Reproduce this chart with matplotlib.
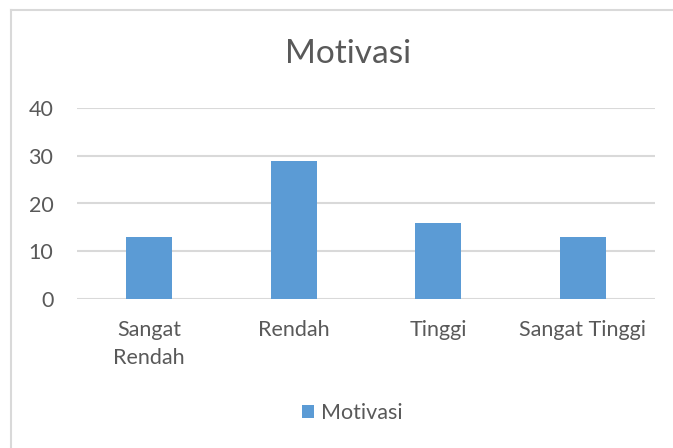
import matplotlib
matplotlib.use("Agg")
import matplotlib.pyplot as plt
from matplotlib.lines import Line2D
from matplotlib.patches import Patch

# data
categories = ["Sangat\nRendah", "Rendah", "Tinggi", "Sangat Tinggi"]
values = [13, 29, 16, 13]
series_name = "Motivasi"
yticks = [0, 10, 20, 30, 40]

bar_color = "#5B9BD5"
text_color = "#595959"
grid_color = "#D9D9D9"

plt.rcParams["font.family"] = ["Lato", "DejaVu Sans"]

W, H = 673, 448
fig = plt.figure(figsize=(W / 100, H / 100), dpi=100)

# outer chart border (only top and left edges are visible in the crop)
top = 1 - 10 / H
left = 11.5 / W
fig.lines.append(Line2D([left, 1], [top, top], transform=fig.transFigure,
                        color="#D9D9D9", linewidth=1.5))
fig.lines.append(Line2D([left, left], [0, top], transform=fig.transFigure,
                        color="#D9D9D9", linewidth=1.5))

ax = fig.add_axes([77 / W, 1 - 299 / H, 578 / W, 191 / H])
x = range(len(categories))
ax.bar(x, values, width=0.32, color=bar_color, zorder=3)

ax.set_xlim(-0.5, len(categories) - 0.5)
ax.set_ylim(0, 40)
ax.set_yticks(yticks)
ax.set_xticks(list(x))
ax.set_xticklabels(categories, fontsize=15.5, color=text_color, va="top", linespacing=1.5)
ax.tick_params(axis="y", labelsize=15.5, labelcolor=text_color, length=0, pad=17)
ax.tick_params(axis="x", length=0, pad=15)

ax.grid(axis="y", color=grid_color, linewidth=1.5, zorder=0)
for s in ax.spines.values():
    s.set_visible(False)

fig.text(348 / W, 1 - 54 / H, "Motivasi", ha="center", va="center", fontsize=24, color=text_color)

handle = Patch(facecolor=bar_color, edgecolor="none")
fig.legend([handle], [series_name], loc="center", bbox_to_anchor=(352 / W, 1 - 413 / H),
           frameon=False, fontsize=15.5, labelcolor=text_color, handlelength=0.6, handleheight=0.6,
           handletextpad=0.3)

fig.savefig("out.png", dpi=100)
